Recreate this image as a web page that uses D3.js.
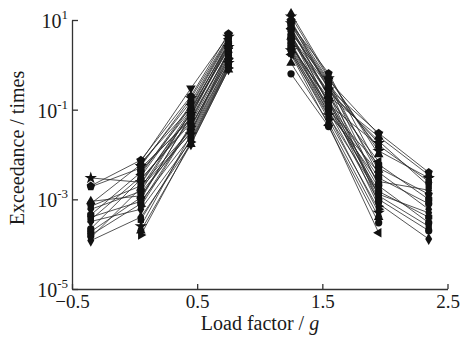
<!DOCTYPE html>
<html>
<head>
<meta charset="utf-8">
<script src="https://cdn.jsdelivr.net/npm/d3@7"></script>
<style>
  body { margin: 0; background: #fff; }
  svg text { font-family: "Liberation Serif", "Times New Roman", serif; fill: #1a1a1a; }
</style>
</head>
<body>
<div id="chart"></div>
<script>
// load factor positions of the two groups
const xLeft = [-0.35, 0.05, 0.45, 0.75];
const xRight = [1.25, 1.55, 1.95, 2.35];

const yTicks = [1e1, 1e-1, 1e-3, 1e-5];
const xTicks = [-0.5, 0.5, 1.5, 2.5];

// one marker per flight record
const markers = [
  "star", "pentagon", "pentagon", "triUp", "circle", "square", "diamond", "hexagon",
  "square", "square", "diamond", "circle", "circle", "hexagon", "diamond", "diamond",
  "triDown", "triUp", "star", "circle", "triLeft", "square", "diamond", "triUp",
  "hexagon", "circle", "triRight", "square", "star", "triRight", "triUp", "circle", "triLeft"
];

// exceedance (times) read at each load factor, same order as markers
const atM035 = [3.0e-3, 2.0e-3, 1.9e-3, 9e-4, 8e-4, 7e-4, 6e-4, 4.5e-4, 4e-4, 3.5e-4, 3.2e-4, 2.2e-4, 1.9e-4, 1.6e-4, 1.4e-4, 1.2e-4,
  null, null, null, null, null, null, null, null, null, null, null, null, null, null, null, null, null];
const at005 = [2.4e-3, 7.5e-3, 5e-3, 1.2e-3, 6e-3, 2e-3, 1.5e-3, 4e-3, 9e-4, 3.2e-3, 6e-4, 2.8e-3, 1.1e-3, 8e-4, 1.8e-3, 4e-4,
  7e-3, 6.5e-3, 5.5e-3, 4.5e-3, 3.6e-3, 2.8e-3, 2.2e-3, 1.8e-3, 1.4e-3, 1e-3, 7e-4, 3.5e-4, 2.5e-4, 1.6e-4, 2e-4, null, null];
const at045 = [8e-2, 2e-1, 6e-2, 4e-2, 1.5e-1, 3.5e-2, 9e-2, 1.0e-1, 2.5e-2, 1.2e-1, 2e-2, 5e-2, 7e-2, 4.5e-2, 3e-2, 1.7e-2,
  3e-1, 1.1e-1, 1.8e-1, 6.5e-2, 1.3e-1, 5.5e-2, 9.5e-2, 8.5e-2, 3.2e-2, 7.5e-2, 4.2e-2, 2.2e-2, 2.8e-2, 1.9e-2, 1.7e-2, null, null];
const at075 = [2.5, 5.0, 1.8, 1.5, 4.0, 1.3, 2.2, 3.0, 1.0, 3.5, 0.9, 1.6, 3.0, 1.2, 2.0, 0.8,
  4.5, 2.8, 4.2, 1.9, 3.8, 2.0, 3.2, 2.6, 1.1, 2.4, 1.4, 0.95, 1.1, 0.85, 0.78, null, null];
const at125 = [12, 10, 8, 7, 6, 5, 5.5, 4.5, 4, 3.5, 3, 2.5, 2.8, 2.2, 2, 1.8,
  9, 14, 8.5, 7.5, 6.5, 5.2, 4.8, 4.2, 3.8, 3.2, 2.6, 2.4, 2.1, 1.9, 1.1, 0.63, 1.7];
const at155 = [0.5, 0.3, 0.65, 0.2, 0.4, 0.13, 0.35, 0.1, 0.25, 0.22, 0.08, 0.18, 0.15, 0.11, 0.09, 0.07,
  0.45, 0.55, 0.28, 0.42, 0.19, 0.38, 0.14, 0.32, 0.24, 0.095, 0.16, 0.12, 0.075, 0.06, 0.05, 0.042, 0.045];
const at195 = [1.2e-2, 3e-2, 5e-3, 2.5e-2, 2e-3, 1.6e-2, 8e-4, 6e-3, 2e-2, 1.2e-3, 4e-3, 1e-3, 3e-3, 1.5e-3, 2.5e-3, 1.3e-3,
  2.8e-2, 1e-2, 1.8e-2, 3.5e-3, 7e-3, 1.4e-2, 1.8e-3, 4.5e-3, 2.2e-3, 9e-4, 7e-4, 1.3e-3, 5e-4, 6e-4, 4e-4, 3e-4, 1.8e-4];
const at235 = [3e-3, 4e-3, 1.3e-3, 3.5e-3, 3e-4, 2.5e-3, 1.3e-4, 1e-3, 2e-3, 2.5e-4, 6e-4, 2e-4, 8e-4, 4e-4, 1.6e-3, 5e-4,
  null, null, null, null, null, null, null, null, null, null, null, null, null, null, null, null, null];

const width = 463, height = 347;
const margin = {top: 20, right: 15, bottom: 58, left: 72};

const svg = d3.select("#chart")
  .append("svg")
    .attr("width", width)
    .attr("height", height);

const x = d3.scaleLinear()
  .domain([-0.5, 2.5])
  .range([margin.left, 447.5]);

const y = d3.scaleLog()
  .domain([1e-5, 1e1])
  .range([height - margin.bottom, margin.top]);

// polygon marker (pentagon / hexagon)
const polygon = n => ({
  draw(ctx, size) {
    const r = Math.sqrt(size / (0.5 * n * Math.sin(2 * Math.PI / n)));
    for (let i = 0; i < n; i++) {
      const a = -Math.PI / 2 + i * 2 * Math.PI / n;
      if (i === 0) ctx.moveTo(r * Math.cos(a), r * Math.sin(a));
      else ctx.lineTo(r * Math.cos(a), r * Math.sin(a));
    }
    ctx.closePath();
  }
});

const shapes = {
  circle:   {type: d3.symbolCircle, size: 42, rot: 0},
  square:   {type: d3.symbolSquare, size: 40, rot: 0},
  diamond:  {type: d3.symbolDiamond, size: 42, rot: 0},
  star:     {type: d3.symbolStar, size: 48, rot: 0},
  pentagon: {type: polygon(5), size: 44, rot: 0},
  hexagon:  {type: polygon(6), size: 44, rot: 0},
  triUp:    {type: d3.symbolTriangle, size: 40, rot: 0},
  triDown:  {type: d3.symbolTriangle, size: 40, rot: 180},
  triLeft:  {type: d3.symbolTriangle, size: 40, rot: -90},
  triRight: {type: d3.symbolTriangle, size: 40, rot: 90}
};

const leftCols = [atM035, at005, at045, at075];
const rightCols = [at125, at155, at195, at235];

const segments = [];
markers.forEach((m, i) => {
  segments.push({marker: m, pts: xLeft.map((xv, j) => [xv, leftCols[j][i]])});
  segments.push({marker: m, pts: xRight.map((xv, j) => [xv, rightCols[j][i]])});
});

const line = d3.line()
  .defined(d => d[1] != null)
  .x(d => x(d[0]))
  .y(d => y(d[1]));

svg.append("g")
  .selectAll("path")
  .data(segments)
  .join("path")
    .attr("fill", "none")
    .attr("stroke", "#2a2a2a")
    .attr("stroke-width", 0.8)
    .attr("d", d => line(d.pts));

svg.append("g")
  .selectAll("path")
  .data(segments.flatMap(s => s.pts.filter(p => p[1] != null).map(p => ({p, m: s.marker}))))
  .join("path")
    .attr("fill", "#111")
    .attr("transform", d => `translate(${x(d.p[0])},${y(d.p[1])}) rotate(${shapes[d.m].rot})`)
    .attr("d", d => d3.symbol(shapes[d.m].type, shapes[d.m].size)());

// axes
const xAxis = d3.axisBottom(x)
  .tickValues(xTicks)
  .tickSize(-5)
  .tickSizeOuter(0)
  .tickPadding(6)
  .tickFormat(d => d < 0 ? "\u22120.5" : d3.format(".1f")(d));

const gx = svg.append("g")
  .attr("transform", `translate(0, ${y(1e-5)})`)
  .call(xAxis);

const yAxis = d3.axisLeft(y)
  .tickValues(yTicks)
  .tickSize(-6)
  .tickSizeOuter(0)
  .tickFormat("");

const gy = svg.append("g")
  .attr("transform", `translate(${margin.left}, 0)`)
  .call(yAxis);

[gx, gy].forEach(g => {
  g.attr("font-size", 19).attr("font-family", null);
  g.selectAll("path, line").attr("stroke", "#333").attr("stroke-width", 1.3);
  g.selectAll("text").attr("fill", "#1a1a1a");
});

const yLab = svg.append("g")
  .selectAll("text")
  .data(yTicks)
  .join("text")
    .attr("x", margin.left - 4)
    .attr("y", d => y(d) + 8)
    .attr("text-anchor", "end")
    .attr("font-size", 20);

yLab.append("tspan").text("10");
yLab.append("tspan")
  .attr("font-size", 13)
  .attr("dy", -9)
  .text(d => Math.round(Math.log10(d)) < 0 ? "-" + Math.abs(Math.round(Math.log10(d))) : Math.round(Math.log10(d)));

// titles
svg.append("text")
  .attr("transform", `translate(24, 148) rotate(-90)`)
  .attr("text-anchor", "middle")
  .attr("font-size", 20)
  .text("Exceedance / times");

const xt = svg.append("text")
  .attr("x", 260)
  .attr("y", 330)
  .attr("text-anchor", "middle")
  .attr("font-size", 20);
xt.append("tspan").text("Load factor / ");
xt.append("tspan").attr("font-style", "italic").text("g");
</script>
</body>
</html>
